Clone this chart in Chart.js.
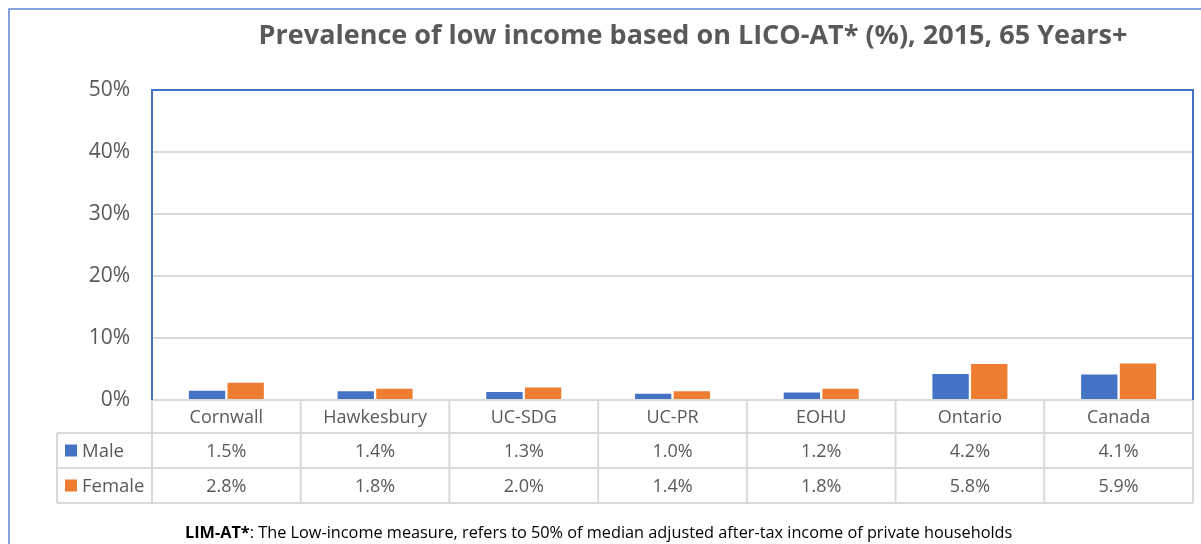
<!DOCTYPE html>
<html>
<head>
<meta charset="utf-8">
<script src="https://cdn.jsdelivr.net/npm/chart.js@4"></script>
<style>
html,body{margin:0;padding:0;background:#fff;}
#wrap{width:1201px;height:544px;position:relative;}
</style>
</head>
<body>
<div id="wrap"><canvas id="c" width="1201" height="544"></canvas></div>
<script>
const titleText = "Prevalence of low income based on LICO-AT* (%), 2015, 65 Years+";
const categories = ["Cornwall", "Hawkesbury", "UC-SDG", "UC-PR", "EOHU", "Ontario", "Canada"];
const seriesNames = ["Male", "Female"];
const maleValues = [1.5, 1.4, 1.3, 1.0, 1.2, 4.2, 4.1];
const femaleValues = [2.8, 1.8, 2.0, 1.4, 1.8, 5.8, 5.9];
const yTicks = [0, 10, 20, 30, 40, 50];
const footBold = "LIM-AT*";
const footText = ": The Low-income measure, refers to 50% of median adjusted after-tax income of private households";

const BLUE = "#4472c4", ORANGE = "#ed7d31", GRID = "#d9d9d9", TXT = "#595959";
const FONT = "'Open Sans', 'Noto Sans', sans-serif";

const tablePlugin = {
  id: 'tablePlugin',
  afterDraw(chart) {
    const ctx = chart.ctx;
    const ca = chart.chartArea;
    const xs = chart.scales.x;
    const n = categories.length;
    const colW = (ca.right - ca.left) / n;
    const y0 = ca.bottom, y1 = y0 + 33, y2 = y1 + 35, y3 = y2 + 35;
    const tl = 57;
    ctx.save();
    // table lines
    ctx.strokeStyle = GRID; ctx.lineWidth = 2;
    ctx.beginPath();
    ctx.moveTo(ca.left, y0); ctx.lineTo(ca.right, y0);
    [y1, y2, y3].forEach(y => { ctx.moveTo(tl, y); ctx.lineTo(ca.right, y); });
    for (let i = 0; i <= n; i++) {
      const x = ca.left + i * colW;
      ctx.moveTo(x, y0); ctx.lineTo(x, y3);
    }
    ctx.moveTo(tl, y1); ctx.lineTo(tl, y3);
    ctx.stroke();
    // plot border
    ctx.strokeStyle = BLUE; ctx.lineWidth = 2;
    ctx.beginPath();
    ctx.moveTo(ca.left, ca.bottom); ctx.lineTo(ca.left, ca.top); ctx.lineTo(ca.right, ca.top); ctx.lineTo(ca.right, ca.bottom);
    ctx.stroke();
    // text
    ctx.fillStyle = TXT;
    ctx.font = "18px " + FONT;
    ctx.textAlign = "center"; ctx.textBaseline = "middle";
    categories.forEach((c, i) => {
      const x = xs.getPixelForValue(i);
      ctx.fillText(c, x, (y0 + y1) / 2 + 1);
      ctx.fillText(maleValues[i].toFixed(1) + "%", x, (y1 + y2) / 2 + 1);
      ctx.fillText(femaleValues[i].toFixed(1) + "%", x, (y2 + y3) / 2 + 1);
    });
    // legend keys
    ctx.font = "18.5px " + FONT;
    const rows = [[(y1 + y2) / 2, BLUE, seriesNames[0]], [(y2 + y3) / 2, ORANGE, seriesNames[1]]];
    rows.forEach(r => {
      ctx.fillStyle = r[1];
      ctx.fillRect(65, r[0] - 6, 12, 12);
      ctx.fillStyle = TXT; ctx.textAlign = "left";
      ctx.fillText(r[2], 82, r[0] + 1);
    });
    // footnote
    ctx.fillStyle = "#000";
    ctx.font = "bold 16.3px " + FONT;
    ctx.textAlign = "left";
    const fx = 185, fy = 533;
    ctx.fillText(footBold, fx, fy);
    const bw = ctx.measureText(footBold).width;
    ctx.font = "16.3px " + FONT;
    ctx.fillText(footText, fx + bw, fy);
    // title
    ctx.fillStyle = TXT;
    ctx.font = "bold 27px " + FONT;
    ctx.textAlign = "center";
    ctx.fillText(titleText, 693, 36);
    // outer border
    ctx.strokeStyle = "#5b84d6"; ctx.lineWidth = 1.5;
    ctx.beginPath();
    ctx.moveTo(9, 544); ctx.lineTo(9, 9); ctx.lineTo(1201, 9);
    ctx.stroke();
    ctx.restore();
  }
};

new Chart(document.getElementById('c'), {
  type: 'bar',
  data: {
    labels: categories,
    datasets: [
      { label: seriesNames[0], data: maleValues, backgroundColor: BLUE, categoryPercentage: 0.52, barPercentage: 0.94 },
      { label: seriesNames[1], data: femaleValues, backgroundColor: ORANGE, categoryPercentage: 0.52, barPercentage: 0.94 }
    ]
  },
  options: {
    responsive: false,
    animation: false,
    layout: { padding: { left: 0, top: 90, right: 8, bottom: 144 } },
    plugins: { legend: { display: false }, title: { display: false }, tooltip: { enabled: false } },
    scales: {
      x: {
        ticks: { display: false },
        grid: { display: false },
        border: { display: false },
        afterFit: s => { s.height = 0; }
      },
      y: {
        min: 0, max: 50,
        afterFit: s => { s.width = 152; },
        afterBuildTicks: s => { s.ticks = yTicks.map(v => ({ value: v })); },
        ticks: {
          callback: v => v + "%",
          color: TXT,
          font: { family: FONT, size: 21 },
          padding: 22
        },
        grid: { color: GRID, lineWidth: 2, drawTicks: false },
        border: { display: false }
      }
    }
  },
  plugins: [tablePlugin]
});
</script>
</body>
</html>
